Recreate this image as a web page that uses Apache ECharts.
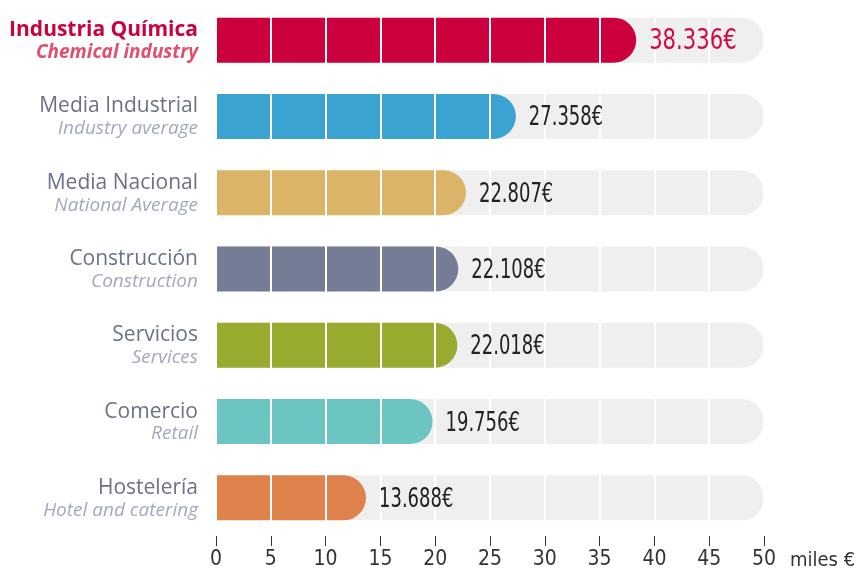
<!DOCTYPE html>
<html>
<head>
<meta charset="utf-8">
<script src="https://cdn.jsdelivr.net/npm/echarts@6/dist/echarts.min.js"></script>
<style>
html, body { margin: 0; padding: 0; background: #fff; }
#chart { width: 861px; height: 571px; }
</style>
</head>
<body>
<div id="chart"></div>
<script>
const sectorsEs = ['Industria Química', 'Media Industrial', 'Media Nacional', 'Construcción', 'Servicios', 'Comercio', 'Hostelería'];
const sectorsEn = ['Chemical industry', 'Industry average', 'National Average', 'Construction', 'Services', 'Retail', 'Hotel and catering'];
const salaries = [38.336, 27.358, 22.807, 22.108, 22.018, 19.756, 13.688];
const barColors = ['#cc003d', '#3aa3d2', '#dbb467', '#757c96', '#98ab2e', '#6cc5c1', '#e0824b'];
const xTicks = [0, 5, 10, 15, 20, 25, 30, 35, 40, 45, 50];

const labelFont = "'Open Sans', 'Noto Sans', sans-serif";
const numFont = "'DejaVu Sans Condensed', sans-serif";

const chart = echarts.init(document.getElementById('chart'));

// value labels drawn narrow (the original uses a condensed face)
function renderValue(params, api) {
	const i = params.dataIndex;
	const pt = api.coord([api.value(0), api.value(1)]);
	const first = i === 0;
	return {
		type: 'text',
		x: pt[0] + 13,
		y: pt[1] + 2,
		scaleX: first ? 0.84 : 0.74,
		style: {
			text: api.value(0).toFixed(3) + '€',
			fontFamily: numFont,
			fontSize: first ? 28 : 27,
			fill: first ? '#cf0a44' : '#222',
			align: 'left',
			verticalAlign: 'middle'
		}
	};
}

const option = {
	animation: false,
	grid: { left: 216, right: 97, top: 2, bottom: 35 },
	xAxis: {
		type: 'value',
		min: xTicks[0],
		max: xTicks[xTicks.length - 1],
		interval: 5,
		z: 10,
		axisLine: { show: false },
		axisTick: { show: true, length: 10, lineStyle: { color: '#333', width: 1 } },
		splitLine: { show: true, lineStyle: { color: '#fff', width: 2 } },
		axisLabel: { color: '#333', fontFamily: numFont, fontSize: 21, margin: 13 },
		name: 'miles €',
		nameLocation: 'end',
		nameGap: 26,
		nameTextStyle: { color: '#333', fontFamily: numFont, fontSize: 20, align: 'left', verticalAlign: 'top', padding: [15, 0, 0, 0] }
	},
	yAxis: {
		type: 'category',
		inverse: true,
		data: sectorsEs,
		axisLine: { show: false },
		axisTick: { show: false },
		axisLabel: {
			margin: 18,
			align: 'right',
			formatter: (v, i) => {
				const top = i === 0 ? 'a0' : 'a';
				const bot = i === 0 ? 'b0' : 'b';
				return '{' + top + '|' + v + '}\n{' + bot + '|' + sectorsEn[i] + '}';
			},
			rich: {
				a: { fontFamily: labelFont, fontSize: 21, color: '#6b7288', lineHeight: 25, align: 'right', padding: [3, 0, 0, 0] },
				b: { fontFamily: labelFont, fontSize: 19, fontStyle: 'italic', color: '#a3a9bb', lineHeight: 23, align: 'right' },
				a0: { fontFamily: labelFont, fontSize: 21, fontWeight: 'bold', color: '#cc003d', lineHeight: 25, align: 'right', padding: [3, 0, 0, 0] },
				b0: { fontFamily: labelFont, fontSize: 19, fontWeight: 'bold', fontStyle: 'italic', color: '#e0506e', lineHeight: 23, align: 'right' }
			}
		}
	},
	series: [{
		type: 'bar',
		barWidth: 45,
		z: 2,
		data: salaries.map((v, i) => ({ value: v, itemStyle: { color: barColors[i] } })),
		itemStyle: { borderRadius: [0, 22.5, 22.5, 0] },
		showBackground: true,
		backgroundStyle: { color: '#efefef', borderRadius: [0, 22.5, 22.5, 0] }
	}, {
		type: 'custom',
		z: 20,
		data: salaries.map((v, i) => [v, i]),
		encode: { x: 0, y: 1 },
		renderItem: renderValue
	}]
};

chart.setOption(option);
</script>
</body>
</html>
